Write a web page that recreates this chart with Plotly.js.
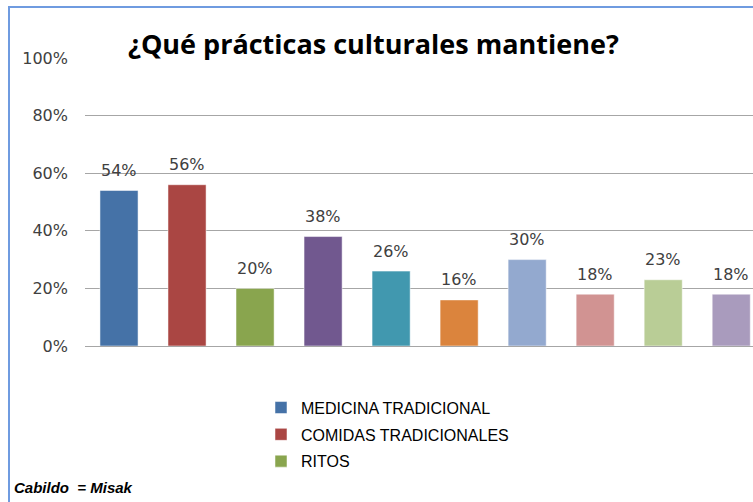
<!DOCTYPE html>
<html><head><meta charset="utf-8">
<script src="https://cdn.plot.ly/plotly-3.0.1.min.js"></script>
<style>
html,body{margin:0;padding:0;background:#fff;}
#wrap{position:relative;width:753px;height:502px;overflow:hidden;}
#frame{position:absolute;left:8px;top:6px;width:760px;height:510px;border-left:2px solid #6f9be0;border-top:2px solid #6f9be0;pointer-events:none;z-index:5;}
#chart{position:absolute;left:0;top:0;width:753px;height:502px;}
</style></head>
<body><div id="wrap"><div id="chart"></div><div id="frame"></div></div>
<script>
const names = ["MEDICINA TRADICIONAL","COMIDAS TRADICIONALES","RITOS","4","5","6","7","8","9","10"];
const values = [0.54,0.56,0.20,0.38,0.26,0.16,0.30,0.18,0.23,0.18];
const labels = ["54%","56%","20%","38%","26%","16%","30%","18%","23%","18%"];
const colors = ["#4572A7","#AA4643","#89A54E","#71588F","#4198AF","#DB843D","#93A9CF","#D19392","#B9CD96","#A99BBD"];
const visibleLegend = [true,true,true,false,false,false,false,false,false,false];
const yTicks = [0,0.2,0.4,0.6,0.8,1.0];
const yTickText = ["0%","20%","40%","60%","80%","100%"];

const traces = names.map((n,i)=>({
  type:'bar', x:[i], y:[values[i]], name:n,
  marker:{color:colors[i], line:{color:'rgba(255,255,255,0.5)', width:1}},
  width:0.56, showlegend:visibleLegend[i], legendgroup:'g'+i,
  hoverinfo:'none'
}));

const labelAnnotations = labels.map((t,i)=>({
  text:t, x:i, y:values[i], xref:'x', yref:'y', showarrow:false,
  yanchor:'middle', yshift:20,
  font:{family:'DejaVu Sans, sans-serif', size:16, color:'#404040'}
}));

const layout = {
  width:753, height:502,
  margin:{l:85, r:0, t:58, b:156},
  paper_bgcolor:'#fff', plot_bgcolor:'#fff',
  title:{text:'¿Qué prácticas culturales mantiene?', x:128/753, xanchor:'left', y:1-45/502, yanchor:'middle',
    font:{family:'Open Sans, sans-serif', size:27, color:'#000', weight:'bold'}},
  xaxis:{range:[-0.5,9.32], showticklabels:false, showgrid:false, zeroline:false, showline:false, fixedrange:true},
  yaxis:{range:[0,1], tickvals:yTicks, ticktext:yTickText, showgrid:true, gridcolor:'#a6a6a6', gridwidth:1,
    zeroline:true, zerolinecolor:'#a6a6a6', zerolinewidth:1, showline:false, ticks:'', ticklen:0,
    tickfont:{family:'DejaVu Sans, sans-serif', size:16, color:'#404040'}, ticklabelstandoff:16, fixedrange:true},
  showlegend:true,
  legend:{x:(261-85)/668, xanchor:'left', y:-0.155, yanchor:'top', orientation:'v',
    font:{family:'Liberation Sans, sans-serif', size:16, color:'#000'},
    tracegroupgap:3, bgcolor:'rgba(0,0,0,0)', itemwidth:30},
  annotations:labelAnnotations.concat([{text:'<b><i>Cabildo  = Misak</i></b>', xref:'paper', yref:'paper',
    x:(12-85)/668, xanchor:'left', y:(346-487)/288, yanchor:'middle', showarrow:false,
    font:{family:'Liberation Sans, sans-serif', size:15, color:'#000'}}])
};
Plotly.newPlot('chart', traces, layout, {displayModeBar:false, staticPlot:true});
</script></body></html>
